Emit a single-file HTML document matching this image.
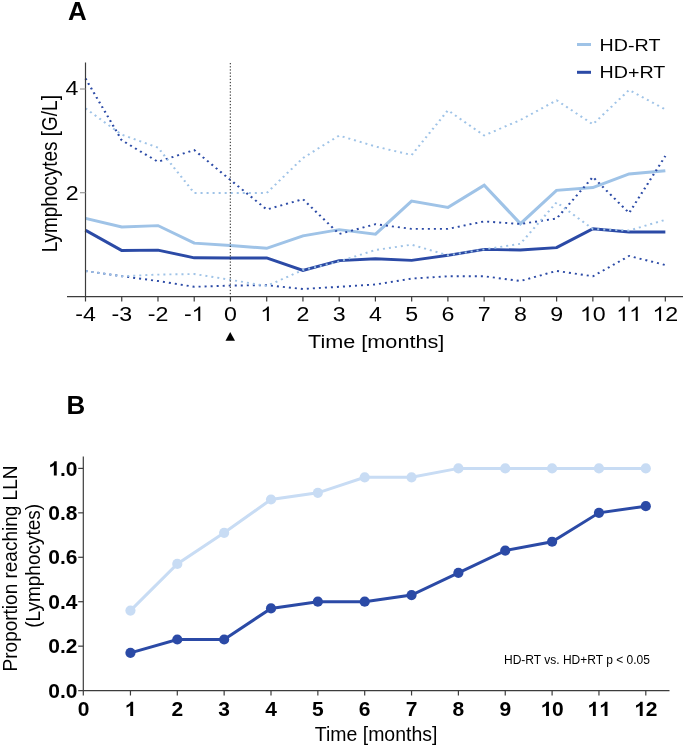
<!DOCTYPE html>
<html><head><meta charset="utf-8"><style>
html,body{margin:0;padding:0;background:#fff;width:685px;height:747px;overflow:hidden}
svg{display:block;will-change:transform;font-family:"Liberation Sans",sans-serif}
text{fill:#000}
</style></head><body>
<svg width="685" height="747" viewBox="0 0 685 747">
<rect width="685" height="747" fill="#fff"/>
<text x="68" y="19.7" font-size="25.9" font-weight="bold">A</text>
<g transform="scale(1.16,1)">
<polyline points="73.707,218.30 104.948,227.00 136.190,225.60 167.431,243.10 198.672,245.50 229.914,248.30 261.155,235.90 292.397,229.60 323.638,234.20 354.879,201.10 386.121,207.40 417.362,185.20 448.603,223.70 479.845,190.30 511.086,187.50 542.328,174.00 573.569,170.70" fill="none" stroke="#9fc3e7" stroke-width="2.9" stroke-linejoin="miter"/>
<polyline points="73.707,230.30 104.948,250.50 136.190,250.10 167.431,257.80 198.672,258.00 229.914,258.00 261.155,270.40 292.397,260.60 323.638,258.80 354.879,260.40 386.121,255.30 417.362,249.40 448.603,250.00 479.845,247.60 511.086,228.80 542.328,232.00 573.569,232.00" fill="none" stroke="#2b4aa6" stroke-width="2.9" stroke-linejoin="miter"/>
<polyline points="73.707,78.50 104.948,140.30 136.190,161.80 167.431,150.00 198.672,180.00 229.914,209.50 261.155,199.20 292.397,234.00 323.638,224.20 354.879,228.90 386.121,228.90 417.362,221.40 448.603,224.00 479.845,218.50 511.086,177.00 542.328,213.00 573.569,156.00" fill="none" stroke="#2b4aa6" stroke-width="1.9" stroke-dasharray="1.75 3.45"/>
<polyline points="73.707,271.00 104.948,276.20 136.190,281.00 167.431,286.80 198.672,285.60 229.914,285.20 261.155,289.00 292.397,286.80 323.638,284.50 354.879,278.60 386.121,276.30 417.362,276.30 448.603,281.00 479.845,270.90 511.086,276.30 542.328,256.00 573.569,265.00" fill="none" stroke="#2b4aa6" stroke-width="1.9" stroke-dasharray="1.75 3.45"/>
<polyline points="73.707,108.40 104.948,134.70 136.190,147.60 167.431,193.00 198.672,193.00 229.914,193.00 261.155,158.00 292.397,135.50 323.638,146.50 354.879,155.00 386.121,110.30 417.362,135.50 448.603,120.00 479.845,100.30 511.086,124.30 542.328,90.00 573.569,109.50" fill="none" stroke="#9fc3e7" stroke-width="1.9" stroke-dasharray="1.75 3.45"/>
<polyline points="73.707,271.00 104.948,276.20 136.190,274.60 167.431,274.00 198.672,279.80 229.914,286.00 261.155,270.00 292.397,261.50 323.638,250.00 354.879,244.70 386.121,255.30 417.362,249.40 448.603,243.80 479.845,202.30 511.086,229.00 542.328,230.50 573.569,219.80" fill="none" stroke="#9fc3e7" stroke-width="1.9" stroke-dasharray="1.75 3.45"/>
</g>
<line x1="230.3" y1="63" x2="230.3" y2="296" stroke="#222" stroke-width="1.0" stroke-dasharray="1.3 1.85"/>
<line x1="85.5" y1="62.5" x2="85.5" y2="301.5" stroke="#3c3c3c" stroke-width="1.2"/>
<line x1="67" y1="296.6" x2="683" y2="296.6" stroke="#3c3c3c" stroke-width="1.2"/>
<line x1="121.74" y1="296.6" x2="121.74" y2="301.5" stroke="#3c3c3c" stroke-width="1.2"/>
<line x1="157.98" y1="296.6" x2="157.98" y2="301.5" stroke="#3c3c3c" stroke-width="1.2"/>
<line x1="194.22" y1="296.6" x2="194.22" y2="301.5" stroke="#3c3c3c" stroke-width="1.2"/>
<line x1="230.46" y1="296.6" x2="230.46" y2="301.5" stroke="#3c3c3c" stroke-width="1.2"/>
<line x1="266.70" y1="296.6" x2="266.70" y2="301.5" stroke="#3c3c3c" stroke-width="1.2"/>
<line x1="302.94" y1="296.6" x2="302.94" y2="301.5" stroke="#3c3c3c" stroke-width="1.2"/>
<line x1="339.18" y1="296.6" x2="339.18" y2="301.5" stroke="#3c3c3c" stroke-width="1.2"/>
<line x1="375.42" y1="296.6" x2="375.42" y2="301.5" stroke="#3c3c3c" stroke-width="1.2"/>
<line x1="411.66" y1="296.6" x2="411.66" y2="301.5" stroke="#3c3c3c" stroke-width="1.2"/>
<line x1="447.90" y1="296.6" x2="447.90" y2="301.5" stroke="#3c3c3c" stroke-width="1.2"/>
<line x1="484.14" y1="296.6" x2="484.14" y2="301.5" stroke="#3c3c3c" stroke-width="1.2"/>
<line x1="520.38" y1="296.6" x2="520.38" y2="301.5" stroke="#3c3c3c" stroke-width="1.2"/>
<line x1="556.62" y1="296.6" x2="556.62" y2="301.5" stroke="#3c3c3c" stroke-width="1.2"/>
<line x1="592.86" y1="296.6" x2="592.86" y2="301.5" stroke="#3c3c3c" stroke-width="1.2"/>
<line x1="629.10" y1="296.6" x2="629.10" y2="301.5" stroke="#3c3c3c" stroke-width="1.2"/>
<line x1="665.34" y1="296.6" x2="665.34" y2="301.5" stroke="#3c3c3c" stroke-width="1.2"/>
<line x1="80" y1="89" x2="85.5" y2="89" stroke="#999" stroke-width="1.2"/>
<line x1="80" y1="192.7" x2="85.5" y2="192.7" stroke="#999" stroke-width="1.2"/>
<text x="0" y="0" font-size="20" transform="translate(65.50,95.30) scale(1.16,1)">4</text>
<text x="0" y="0" font-size="20" transform="translate(65.70,199.60) scale(1.16,1)">2</text>
<text x="0" y="0" font-size="20" transform="translate(75.19,321.00) scale(1.16,1)">-</text><text x="0" y="0" font-size="20" transform="translate(82.91,321.00) scale(1.16,1)">4</text>
<text x="0" y="0" font-size="20" transform="translate(111.43,321.00) scale(1.16,1)">-</text><text x="0" y="0" font-size="20" transform="translate(119.15,321.00) scale(1.16,1)">3</text>
<text x="0" y="0" font-size="20" transform="translate(147.67,321.00) scale(1.16,1)">-</text><text x="0" y="0" font-size="20" transform="translate(155.39,321.00) scale(1.16,1)">2</text>
<text x="0" y="0" font-size="20" transform="translate(183.91,321.00) scale(1.16,1)">-</text><path d="M.3726 0L.2847 0L.2847 .56Q.2529 .5298 .2012 .4995Q.1494 .4692 .1084 .4541L.1084 .5391Q.1821 .5737 .2373 .623Q.2925 .6724 .3154 .7188L.3726 .7188Z" transform="translate(191.63,321.00) scale(23.200,-20.000)"/>
<text x="0" y="0" font-size="20" transform="translate(224.01,321.00) scale(1.16,1)">0</text>
<path d="M.3726 0L.2847 0L.2847 .56Q.2529 .5298 .2012 .4995Q.1494 .4692 .1084 .4541L.1084 .5391Q.1821 .5737 .2373 .623Q.2925 .6724 .3154 .7188L.3726 .7188Z" transform="translate(260.25,321.00) scale(23.200,-20.000)"/>
<text x="0" y="0" font-size="20" transform="translate(296.49,321.00) scale(1.16,1)">2</text>
<text x="0" y="0" font-size="20" transform="translate(332.73,321.00) scale(1.16,1)">3</text>
<text x="0" y="0" font-size="20" transform="translate(368.97,321.00) scale(1.16,1)">4</text>
<text x="0" y="0" font-size="20" transform="translate(405.21,321.00) scale(1.16,1)">5</text>
<text x="0" y="0" font-size="20" transform="translate(441.45,321.00) scale(1.16,1)">6</text>
<text x="0" y="0" font-size="20" transform="translate(477.69,321.00) scale(1.16,1)">7</text>
<text x="0" y="0" font-size="20" transform="translate(513.93,321.00) scale(1.16,1)">8</text>
<text x="0" y="0" font-size="20" transform="translate(550.17,321.00) scale(1.16,1)">9</text>
<path d="M.3726 0L.2847 0L.2847 .56Q.2529 .5298 .2012 .4995Q.1494 .4692 .1084 .4541L.1084 .5391Q.1821 .5737 .2373 .623Q.2925 .6724 .3154 .7188L.3726 .7188Z" transform="translate(579.96,321.00) scale(23.200,-20.000)"/><text x="0" y="0" font-size="20" transform="translate(592.86,321.00) scale(1.16,1)">0</text>
<path d="M.3726 0L.2847 0L.2847 .56Q.2529 .5298 .2012 .4995Q.1494 .4692 .1084 .4541L.1084 .5391Q.1821 .5737 .2373 .623Q.2925 .6724 .3154 .7188L.3726 .7188Z" transform="translate(616.20,321.00) scale(23.200,-20.000)"/><path d="M.3726 0L.2847 0L.2847 .56Q.2529 .5298 .2012 .4995Q.1494 .4692 .1084 .4541L.1084 .5391Q.1821 .5737 .2373 .623Q.2925 .6724 .3154 .7188L.3726 .7188Z" transform="translate(629.10,321.00) scale(23.200,-20.000)"/>
<path d="M.3726 0L.2847 0L.2847 .56Q.2529 .5298 .2012 .4995Q.1494 .4692 .1084 .4541L.1084 .5391Q.1821 .5737 .2373 .623Q.2925 .6724 .3154 .7188L.3726 .7188Z" transform="translate(652.44,321.00) scale(23.200,-20.000)"/><text x="0" y="0" font-size="20" transform="translate(665.34,321.00) scale(1.16,1)">2</text>
<path d="M230.2,332 L235,340.7 L225.5,340.7 Z" fill="#000"/>
<text x="0" y="0" font-size="18.8" transform="translate(308,348) scale(1.153,1)">Time [months]</text>
<text x="0" y="0" font-size="18.95" text-anchor="middle" transform="translate(57,173.7) scale(1.18,1) rotate(-90)">Lymphocytes [G/L]</text>
<line x1="577" y1="44.5" x2="591" y2="44.5" stroke="#9fc3e7" stroke-width="3"/>
<line x1="577" y1="72.3" x2="591" y2="72.3" stroke="#2b4aa6" stroke-width="3"/>
<text x="0" y="0" font-size="16.6" transform="translate(599.6,51.1) scale(1.185,1)">HD-RT</text>
<text x="0" y="0" font-size="16.6" transform="translate(599.6,78.3) scale(1.185,1)">HD+RT</text>
<text x="66.5" y="413.6" font-size="25.9" font-weight="bold">B</text>
<line x1="83.3" y1="456.6" x2="83.3" y2="695.5" stroke="#3c3c3c" stroke-width="1.2"/>
<line x1="78.2" y1="690.6" x2="669.5" y2="690.6" stroke="#3c3c3c" stroke-width="1.2"/>
<line x1="130.45" y1="690.6" x2="130.45" y2="695.5" stroke="#3c3c3c" stroke-width="1.2"/>
<line x1="177.30" y1="690.6" x2="177.30" y2="695.5" stroke="#3c3c3c" stroke-width="1.2"/>
<line x1="224.15" y1="690.6" x2="224.15" y2="695.5" stroke="#3c3c3c" stroke-width="1.2"/>
<line x1="271.00" y1="690.6" x2="271.00" y2="695.5" stroke="#3c3c3c" stroke-width="1.2"/>
<line x1="317.85" y1="690.6" x2="317.85" y2="695.5" stroke="#3c3c3c" stroke-width="1.2"/>
<line x1="364.70" y1="690.6" x2="364.70" y2="695.5" stroke="#3c3c3c" stroke-width="1.2"/>
<line x1="411.55" y1="690.6" x2="411.55" y2="695.5" stroke="#3c3c3c" stroke-width="1.2"/>
<line x1="458.40" y1="690.6" x2="458.40" y2="695.5" stroke="#3c3c3c" stroke-width="1.2"/>
<line x1="505.25" y1="690.6" x2="505.25" y2="695.5" stroke="#3c3c3c" stroke-width="1.2"/>
<line x1="552.10" y1="690.6" x2="552.10" y2="695.5" stroke="#3c3c3c" stroke-width="1.2"/>
<line x1="598.95" y1="690.6" x2="598.95" y2="695.5" stroke="#3c3c3c" stroke-width="1.2"/>
<line x1="645.80" y1="690.6" x2="645.80" y2="695.5" stroke="#3c3c3c" stroke-width="1.2"/>
<line x1="78.2" y1="646.16" x2="83.3" y2="646.16" stroke="#3c3c3c" stroke-width="1.2"/>
<line x1="78.2" y1="601.72" x2="83.3" y2="601.72" stroke="#3c3c3c" stroke-width="1.2"/>
<line x1="78.2" y1="557.28" x2="83.3" y2="557.28" stroke="#3c3c3c" stroke-width="1.2"/>
<line x1="78.2" y1="512.84" x2="83.3" y2="512.84" stroke="#3c3c3c" stroke-width="1.2"/>
<line x1="78.2" y1="468.40" x2="83.3" y2="468.40" stroke="#3c3c3c" stroke-width="1.2"/>
<text x="0" y="0" font-size="19.9" font-weight="bold" transform="translate(48.21,697.70) scale(1.055,1)">0</text><text x="0" y="0" font-size="19.9" font-weight="bold" transform="translate(59.89,697.70) scale(1.055,1)">.</text><text x="0" y="0" font-size="19.9" font-weight="bold" transform="translate(65.72,697.70) scale(1.055,1)">0</text>
<text x="0" y="0" font-size="19.9" font-weight="bold" transform="translate(48.21,653.26) scale(1.055,1)">0</text><text x="0" y="0" font-size="19.9" font-weight="bold" transform="translate(59.89,653.26) scale(1.055,1)">.</text><text x="0" y="0" font-size="19.9" font-weight="bold" transform="translate(65.72,653.26) scale(1.055,1)">2</text>
<text x="0" y="0" font-size="19.9" font-weight="bold" transform="translate(48.21,608.82) scale(1.055,1)">0</text><text x="0" y="0" font-size="19.9" font-weight="bold" transform="translate(59.89,608.82) scale(1.055,1)">.</text><text x="0" y="0" font-size="19.9" font-weight="bold" transform="translate(65.72,608.82) scale(1.055,1)">4</text>
<text x="0" y="0" font-size="19.9" font-weight="bold" transform="translate(48.21,564.38) scale(1.055,1)">0</text><text x="0" y="0" font-size="19.9" font-weight="bold" transform="translate(59.89,564.38) scale(1.055,1)">.</text><text x="0" y="0" font-size="19.9" font-weight="bold" transform="translate(65.72,564.38) scale(1.055,1)">6</text>
<text x="0" y="0" font-size="19.9" font-weight="bold" transform="translate(48.21,519.94) scale(1.055,1)">0</text><text x="0" y="0" font-size="19.9" font-weight="bold" transform="translate(59.89,519.94) scale(1.055,1)">.</text><text x="0" y="0" font-size="19.9" font-weight="bold" transform="translate(65.72,519.94) scale(1.055,1)">8</text>
<path d="M.4063 0L.2690 0L.2690 .5171Q.1938 .4468 .0918 .4131L.0918 .5376Q.1455 .5552 .2085 .604Q.2715 .6533 .2949 .7158L.4063 .7158Z" transform="translate(48.21,475.50) scale(20.994,-19.900)"/><text x="0" y="0" font-size="19.9" font-weight="bold" transform="translate(59.89,475.50) scale(1.055,1)">.</text><text x="0" y="0" font-size="19.9" font-weight="bold" transform="translate(65.72,475.50) scale(1.055,1)">0</text>
<text x="0" y="0" font-size="19.9" font-weight="bold" transform="translate(77.76,715.90) scale(1.055,1)">0</text>
<path d="M.4063 0L.2690 0L.2690 .5171Q.1938 .4468 .0918 .4131L.0918 .5376Q.1455 .5552 .2085 .604Q.2715 .6533 .2949 .7158L.4063 .7158Z" transform="translate(124.61,715.90) scale(20.994,-19.900)"/>
<text x="0" y="0" font-size="19.9" font-weight="bold" transform="translate(171.46,715.90) scale(1.055,1)">2</text>
<text x="0" y="0" font-size="19.9" font-weight="bold" transform="translate(218.31,715.90) scale(1.055,1)">3</text>
<text x="0" y="0" font-size="19.9" font-weight="bold" transform="translate(265.16,715.90) scale(1.055,1)">4</text>
<text x="0" y="0" font-size="19.9" font-weight="bold" transform="translate(312.01,715.90) scale(1.055,1)">5</text>
<text x="0" y="0" font-size="19.9" font-weight="bold" transform="translate(358.86,715.90) scale(1.055,1)">6</text>
<text x="0" y="0" font-size="19.9" font-weight="bold" transform="translate(405.71,715.90) scale(1.055,1)">7</text>
<text x="0" y="0" font-size="19.9" font-weight="bold" transform="translate(452.56,715.90) scale(1.055,1)">8</text>
<text x="0" y="0" font-size="19.9" font-weight="bold" transform="translate(499.41,715.90) scale(1.055,1)">9</text>
<path d="M.4063 0L.2690 0L.2690 .5171Q.1938 .4468 .0918 .4131L.0918 .5376Q.1455 .5552 .2085 .604Q.2715 .6533 .2949 .7158L.4063 .7158Z" transform="translate(540.42,715.90) scale(20.994,-19.900)"/><text x="0" y="0" font-size="19.9" font-weight="bold" transform="translate(552.10,715.90) scale(1.055,1)">0</text>
<path d="M.4063 0L.2690 0L.2690 .5171Q.1938 .4468 .0918 .4131L.0918 .5376Q.1455 .5552 .2085 .604Q.2715 .6533 .2949 .7158L.4063 .7158Z" transform="translate(587.27,715.90) scale(20.994,-19.900)"/><path d="M.4063 0L.2690 0L.2690 .5171Q.1938 .4468 .0918 .4131L.0918 .5376Q.1455 .5552 .2085 .604Q.2715 .6533 .2949 .7158L.4063 .7158Z" transform="translate(598.95,715.90) scale(20.994,-19.900)"/>
<path d="M.4063 0L.2690 0L.2690 .5171Q.1938 .4468 .0918 .4131L.0918 .5376Q.1455 .5552 .2085 .604Q.2715 .6533 .2949 .7158L.4063 .7158Z" transform="translate(634.12,715.90) scale(20.994,-19.900)"/><text x="0" y="0" font-size="19.9" font-weight="bold" transform="translate(645.80,715.90) scale(1.055,1)">2</text>
<polyline points="130.45,610.61 177.30,563.95 224.15,532.84 271.00,499.51 317.85,492.84 364.70,477.29 411.55,477.29 458.40,468.40 505.25,468.40 552.10,468.40 598.95,468.40 645.80,468.40" fill="none" stroke="#c8dcf4" stroke-width="3"/>
<circle cx="130.45" cy="610.61" r="5.1" fill="#c8dcf4"/>
<circle cx="177.30" cy="563.95" r="5.1" fill="#c8dcf4"/>
<circle cx="224.15" cy="532.84" r="5.1" fill="#c8dcf4"/>
<circle cx="271.00" cy="499.51" r="5.1" fill="#c8dcf4"/>
<circle cx="317.85" cy="492.84" r="5.1" fill="#c8dcf4"/>
<circle cx="364.70" cy="477.29" r="5.1" fill="#c8dcf4"/>
<circle cx="411.55" cy="477.29" r="5.1" fill="#c8dcf4"/>
<circle cx="458.40" cy="468.40" r="5.1" fill="#c8dcf4"/>
<circle cx="505.25" cy="468.40" r="5.1" fill="#c8dcf4"/>
<circle cx="552.10" cy="468.40" r="5.1" fill="#c8dcf4"/>
<circle cx="598.95" cy="468.40" r="5.1" fill="#c8dcf4"/>
<circle cx="645.80" cy="468.40" r="5.1" fill="#c8dcf4"/>
<polyline points="130.45,652.83 177.30,639.49 224.15,639.49 271.00,608.39 317.85,601.72 364.70,601.72 411.55,595.05 458.40,572.83 505.25,550.61 552.10,541.73 598.95,512.84 645.80,506.17" fill="none" stroke="#2b4aa6" stroke-width="3"/>
<circle cx="130.45" cy="652.83" r="5.1" fill="#2b4aa6"/>
<circle cx="177.30" cy="639.49" r="5.1" fill="#2b4aa6"/>
<circle cx="224.15" cy="639.49" r="5.1" fill="#2b4aa6"/>
<circle cx="271.00" cy="608.39" r="5.1" fill="#2b4aa6"/>
<circle cx="317.85" cy="601.72" r="5.1" fill="#2b4aa6"/>
<circle cx="364.70" cy="601.72" r="5.1" fill="#2b4aa6"/>
<circle cx="411.55" cy="595.05" r="5.1" fill="#2b4aa6"/>
<circle cx="458.40" cy="572.83" r="5.1" fill="#2b4aa6"/>
<circle cx="505.25" cy="550.61" r="5.1" fill="#2b4aa6"/>
<circle cx="552.10" cy="541.73" r="5.1" fill="#2b4aa6"/>
<circle cx="598.95" cy="512.84" r="5.1" fill="#2b4aa6"/>
<circle cx="645.80" cy="506.17" r="5.1" fill="#2b4aa6"/>
<text x="504" y="663.8" font-size="12">HD-RT vs. HD+RT p &lt; 0.05</text>
<text x="0" y="0" font-size="19.8" transform="translate(314.8,740.8) scale(0.984,1)">Time [months]</text>
<text x="0" y="0" font-size="19" text-anchor="middle" transform="translate(16.7,568.5) scale(1.09,1) rotate(-90)">Proportion reaching LLN</text>
<text x="0" y="0" font-size="19" text-anchor="middle" transform="translate(39.6,565.8) scale(1.1,1) rotate(-90)">(Lymphocytes)</text>
</svg>
</body></html>
